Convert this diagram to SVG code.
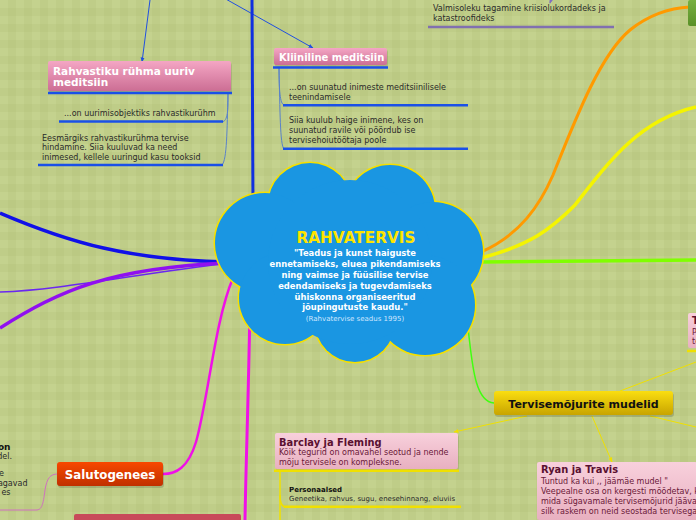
<svg xmlns="http://www.w3.org/2000/svg" width="696" height="520" viewBox="0 0 696 520">
<defs>
<pattern id="bg" width="16" height="16" patternUnits="userSpaceOnUse">
<rect width="16" height="16" fill="#c4d28e"/>
<rect x="8" width="8" height="16" fill="#a8b870" opacity="0.18"/>
<rect y="8" width="16" height="8" fill="#a8b870" opacity="0.18"/>
</pattern>
<linearGradient id="gPink" x1="0" y1="0" x2="0" y2="1"><stop offset="0" stop-color="#f4a6c4"/><stop offset="1" stop-color="#cc6e94"/></linearGradient>
<linearGradient id="gLight" x1="0" y1="0" x2="0" y2="1"><stop offset="0" stop-color="#f8d0dc"/><stop offset="1" stop-color="#e8b0c0"/></linearGradient>
<linearGradient id="gYel" x1="0" y1="0" x2="0" y2="1"><stop offset="0" stop-color="#fade10"/><stop offset="1" stop-color="#c8a400"/></linearGradient>
<linearGradient id="gRed" x1="0" y1="0" x2="0" y2="1"><stop offset="0" stop-color="#f84800"/><stop offset="1" stop-color="#c03000"/></linearGradient>
<linearGradient id="gGreen" x1="0" y1="0" x2="0" y2="1"><stop offset="0" stop-color="#78b040"/><stop offset="1" stop-color="#5a9028"/></linearGradient>
<marker id="aBlue" viewBox="0 0 10 10" refX="9" refY="5" markerWidth="5" markerHeight="5" orient="auto"><path d="M0,1 L10,5 L0,9 z" fill="#2050e0"/></marker>
<marker id="aYel" viewBox="0 0 10 10" refX="9" refY="5" markerWidth="5" markerHeight="5" orient="auto"><path d="M0,1 L10,5 L0,9 z" fill="#f0e000"/></marker>
<marker id="aPur" viewBox="0 0 10 10" refX="9" refY="5" markerWidth="5" markerHeight="5" orient="auto"><path d="M0,1 L10,5 L0,9 z" fill="#8070c0"/></marker>
</defs>
<style>
text{font-family:"DejaVu Sans","Liberation Sans",sans-serif}
.sm{font-size:8px;fill:#2a2a2a}
.ttl{font-weight:bold;fill:#fff}
.dk{font-weight:bold;fill:#5a1030}
.dkb{font-size:8px;fill:#6a1838}
.ub{stroke:#1a50e8;stroke-width:2.5;fill:none}
.uy{stroke:#f0e000;stroke-width:2.5;fill:none}
.thin{stroke:#5a82c8;stroke-width:1;fill:none}
.cloudS{fill:#1a96e2;stroke:#f5e000;stroke-width:3}
.cloudF{fill:#1a96e2}
</style>
<rect width="696" height="520" fill="url(#bg)"/>

<g id="connectors" fill="none">
<path d="M150,0 L142,62" stroke="#2050e0" stroke-width="1" marker-end="url(#aBlue)"/>
<path d="M224,-2 L313,48" stroke="#2050e0" stroke-width="1" marker-end="url(#aBlue)"/>
<path d="M553,-6 L550,3" stroke="#8070c0" stroke-width="1.5" marker-end="url(#aPur)"/>
<path d="M252,0 L253,205" stroke="#1030e0" stroke-width="3"/>
<path d="M0,213 C70,243 130,260 228,262" stroke="#1010e8" stroke-width="3.5"/>
<path d="M0,292 C60,290 130,275 228,263" stroke="#6a28f0" stroke-width="1.5"/>
<path d="M0,328 C60,290 110,268 228,263" stroke="#9010f0" stroke-width="3.5"/>
<path d="M233,278 C215,320 208,400 196,442 C188,468 176,474 163,474" stroke="#f010e8" stroke-width="2.5"/>
<path d="M250,300 C249,380 246,460 245,520" stroke="#f010e8" stroke-width="3"/>
<path d="M58,474 C50,474 47,478 45,490 C43,505 42,510 36,510 L0,510" stroke="#d070c0" stroke-width="1"/>
<path d="M481,252 C520,235 540,205 553,175 C575,120 600,55 630,30 C650,14 670,8 690,7" stroke="#ff9a00" stroke-width="3"/>
<path d="M481,258 C530,245 550,230 575,205 C610,160 640,120 696,107" stroke="#f4f400" stroke-width="3.5"/>
<path d="M481,262 L696,260" stroke="#80ff00" stroke-width="3.5"/>
<path d="M468,328 C472,360 474,402 494,403" stroke="#40ff10" stroke-width="1.5"/>
<path d="M620,391 L696,362" stroke="#f0e000" stroke-width="1"/>
<path d="M650,416 L696,427" stroke="#f0e000" stroke-width="1"/>
<path d="M527,416 L454,432" stroke="#f0e000" stroke-width="1" marker-end="url(#aYel)"/>
<path d="M592,416 L612,462" stroke="#f0e000" stroke-width="1" marker-end="url(#aYel)"/>
<path d="M228,94 C228,110 228,121 222,122" class="thin"/>
<path d="M228,94 C227,130 227,160 222,165" class="thin"/>
<path d="M279,68 C279,90 280,104 284,105" class="thin"/>
<path d="M279,68 C280,110 280,145 284,149" class="thin"/>
<path d="M280,471 L280,520" stroke="#f0e000" stroke-width="1.5"/>
<path d="M280,495 C280,504 282,507 286,507" stroke="#f0e000" stroke-width="1.5"/>
</g>

<g id="node-center">
<circle cx="310" cy="205" r="42" class="cloudS"/>
<circle cx="390" cy="210" r="45" class="cloudS"/>
<circle cx="265" cy="243" r="50" class="cloudS"/>
<circle cx="433" cy="252" r="50" class="cloudS"/>
<circle cx="285" cy="298" r="46" class="cloudS"/>
<circle cx="355" cy="322" r="40" class="cloudS"/>
<circle cx="425" cy="305" r="50" class="cloudS"/>
<circle cx="310" cy="205" r="42" class="cloudF"/>
<circle cx="390" cy="210" r="45" class="cloudF"/>
<circle cx="265" cy="243" r="50" class="cloudF"/>
<circle cx="433" cy="252" r="50" class="cloudF"/>
<circle cx="285" cy="298" r="46" class="cloudF"/>
<circle cx="355" cy="322" r="40" class="cloudF"/>
<circle cx="425" cy="305" r="50" class="cloudF"/>
<circle cx="350" cy="262" r="82" class="cloudF"/>
<text x="356" y="243" text-anchor="middle" font-size="15.3" font-weight="bold" fill="#ffe400">RAHVATERVIS</text>
<g font-size="8.4" font-weight="bold" fill="#fff" text-anchor="middle">
<text x="355" y="256">"Teadus ja kunst haiguste</text>
<text x="355" y="267">ennetamiseks, eluea pikendamiseks</text>
<text x="355" y="278">ning vaimse ja füüsilise tervise</text>
<text x="355" y="289">edendamiseks ja tugevdamiseks</text>
<text x="355" y="299.5">ühiskonna organiseeritud</text>
<text x="355" y="310">jõupingutuste kaudu."</text>
</g>
<text x="355" y="321" text-anchor="middle" font-size="7" fill="#cfe6ff">(Rahvatervise seadus 1995)</text>
</g>

<g id="node-rahvastiku">
<rect x="49" y="63" width="183" height="30" rx="2" fill="#000" opacity="0.12"/>
<rect x="48" y="61" width="183" height="30" rx="2" fill="url(#gPink)"/>
<text x="53" y="75" class="ttl" font-size="10.5">Rahvastiku rühma uuriv</text>
<text x="53" y="86" class="ttl" font-size="10.5">meditsiin</text>
<path d="M48,93 L232,93" class="ub"/>
</g>
<g id="node-rahv-1">
<text x="64" y="115.5" class="sm">...on uurimisobjektiks rahvastikurühm</text>
<path d="M59,121.5 L223,121.5" class="ub"/>
</g>
<g id="node-rahv-2">
<text x="42" y="140.5" class="sm">Eesmärgiks rahvastikurühma tervise</text>
<text x="42" y="150" class="sm">hindamine. Siia kuuluvad ka need</text>
<text x="42" y="159.5" class="sm">inimesed, kellele uuringud kasu tooksid</text>
<path d="M38,165 L223,165" class="ub"/>
</g>

<g id="node-kliiniline">
<rect x="275" y="50" width="113" height="17" rx="2" fill="#000" opacity="0.12"/>
<rect x="274" y="48" width="113" height="17" rx="2" fill="url(#gPink)"/>
<text x="279" y="61" class="ttl" font-size="10">Kliiniline meditsiin</text>
<path d="M273,67.5 L388,67.5" class="ub"/>
</g>
<g id="node-klin-1">
<text x="289" y="90" class="sm">...on suunatud inimeste meditsiinilisele</text>
<text x="289" y="99.5" class="sm">teenindamisele</text>
<path d="M283,105.3 L468,105.3" class="ub"/>
</g>
<g id="node-klin-2">
<text x="289" y="123.3" class="sm">Siia kuulub haige inimene, kes on</text>
<text x="289" y="133" class="sm">suunatud ravile või pöördub ise</text>
<text x="289" y="142.5" class="sm">tervisehoiutöötaja poole</text>
<path d="M283,148.7 L468,148.7" class="ub"/>
</g>

<g id="node-valmisolek">
<text x="433" y="11" class="sm">Valmisoleku tagamine kriisiolukordadeks ja</text>
<text x="433" y="21" class="sm">katastroofideks</text>
<path d="M428,27 L614,27" stroke="#8070b0" stroke-width="2.5"/>
</g>

<g id="node-green-right">
<rect x="688" y="0" width="10" height="26" rx="2" fill="url(#gGreen)"/>
</g>

<g id="node-tervisemojurite">
<rect x="495" y="393" width="179" height="24" rx="3" fill="#000" opacity="0.15"/>
<rect x="494" y="391" width="179" height="24" rx="3" fill="url(#gYel)"/>
<text x="583.5" y="407.7" text-anchor="middle" font-size="11" font-weight="bold" fill="#111">Tervisemõjurite mudelid</text>
</g>

<g id="node-t-right">
<rect x="688" y="313" width="10" height="35" rx="2" fill="url(#gLight)"/>
<text x="692" y="324" class="dk" font-size="9.9">T</text>
<text x="692" y="335" class="dkb">P</text>
<text x="692" y="344" class="dkb">te</text>
<path d="M687,351 L696,351" class="uy"/>
</g>

<g id="node-barclay">
<rect x="276" y="435" width="183" height="36" rx="2" fill="#000" opacity="0.1"/>
<rect x="275" y="433" width="183" height="36" rx="2" fill="url(#gLight)"/>
<text x="279" y="445.5" class="dk" font-size="9.9">Barclay ja Fleming</text>
<text x="279" y="455" class="dkb">Kõik tegurid on omavahel seotud ja nende</text>
<text x="279" y="464.5" class="dkb">mõju tervisele on kompleksne.</text>
<path d="M274,470.7 L459,470.7" class="uy"/>
</g>
<g id="node-personaalsed">
<text x="289" y="492.3" font-size="7" font-weight="bold" fill="#111">Personaalsed</text>
<text x="289" y="500.5" font-size="7" fill="#2a2a2a">Geneetika, rahvus, sugu, enesehinnang, eluviis</text>
<path d="M284,506.7 L461,506.7" class="uy"/>
</g>

<g id="node-ryan">
<rect x="538" y="464" width="160" height="58" rx="2" fill="#000" opacity="0.1"/>
<rect x="537" y="462" width="160" height="58" rx="2" fill="url(#gLight)"/>
<text x="541" y="472.7" class="dk" font-size="9.9">Ryan ja Travis</text>
<text x="541" y="484" class="dkb"> Tuntud ka kui ,, jäämäe mudel "</text>
<text x="541" y="494" class="dkb">Veepealne osa on kergesti mõõdetav, k</text>
<text x="541" y="504" class="dkb">mida sügavamale tervisemõjurid jääva</text>
<text x="541" y="513.5" class="dkb">silk raskem on neid seostada tervisega</text>
</g>

<g id="node-salutogenees">
<rect x="58" y="464" width="106" height="24" rx="3" fill="#000" opacity="0.15"/>
<rect x="57" y="462" width="106" height="24" rx="3" fill="url(#gRed)"/>
<text x="110" y="478.5" text-anchor="middle" font-size="11.8" font-weight="bold" fill="#fff">Salutogenees</text>
</g>

<g id="node-left-partial">
<text x="10.5" y="450" text-anchor="end" font-size="9" font-weight="bold" fill="#111">on</text>
<text x="12" y="459" text-anchor="end" class="sm">del.</text>
<text x="4" y="475.5" text-anchor="end" class="sm">e</text>
<text x="27.5" y="485.5" text-anchor="end" class="sm">agavad</text>
<text x="10.5" y="495" text-anchor="end" class="sm">es</text>
</g>

<g id="node-bottom-red">
<rect x="74" y="514" width="167" height="10" rx="2" fill="#c84a5a"/>
</g>
</svg>
